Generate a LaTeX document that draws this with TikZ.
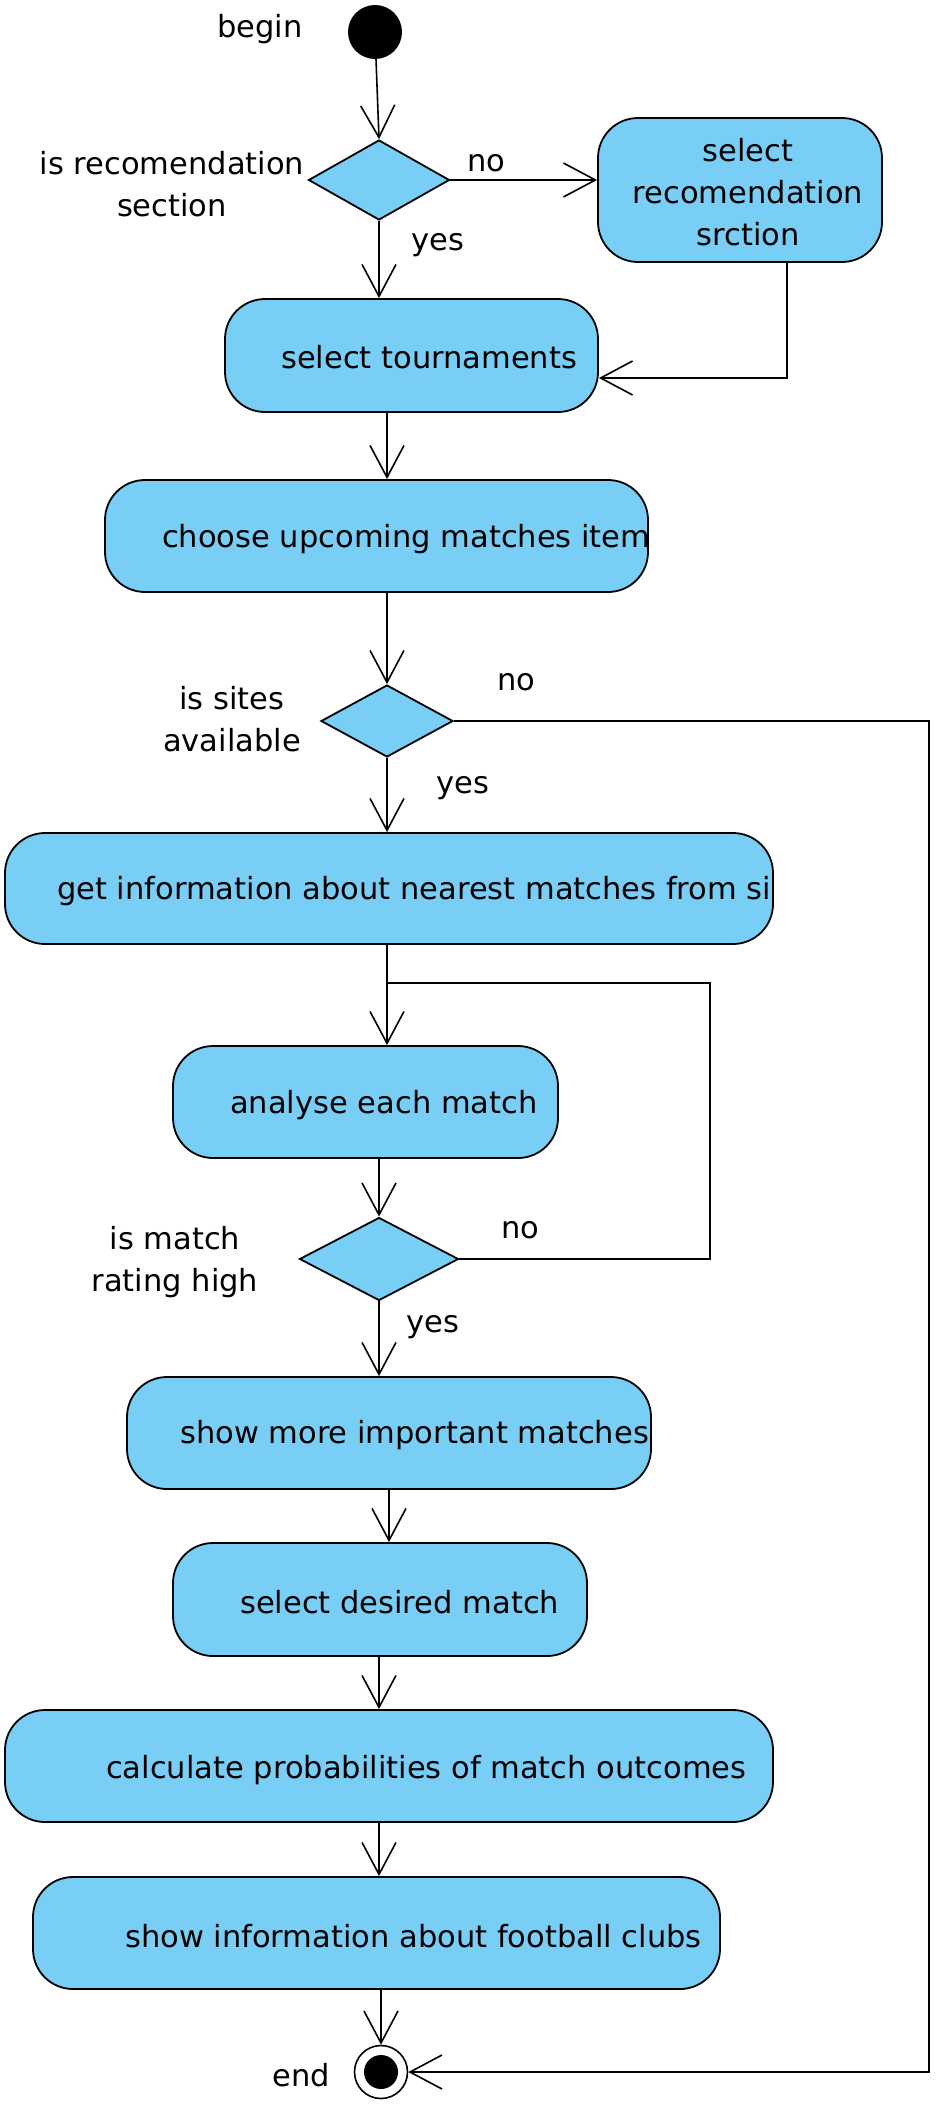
\documentclass[tikz,border=0pt]{standalone}
\usepackage{fontspec}
\setmainfont{DejaVu Sans}
\usetikzlibrary{shapes.geometric,arrows.meta}
\definecolor{actblue}{RGB}{120,206,244}
\tikzset{
  actbox/.style={draw,fill=actblue,rounded corners=40pt,line width=1.8pt,inner sep=0pt},
  decide/.style={draw,fill=actblue,diamond,inner sep=0pt,line width=1.8pt},
  startdot/.style={circle,fill=black,minimum size=54pt,inner sep=0pt},
  lbl/.style={font=\fontsize{30.5}{42}\selectfont,align=center,inner sep=0pt},
  flow/.style={line width=1.6pt,-{Straight Barb[length=32pt,width=34pt]}},
  wire/.style={line width=1.6pt},
}
\begin{document}
\begin{tikzpicture}[x=1pt,y=-1pt]
\useasboundingbox (0,0) rectangle (939,2112);

%% begin, recomendation choice
    \node[startdot] (start) at (375,32) {};
    \node[lbl] (begintxt) at (260,29) {begin};
    \node[decide,minimum width=141pt,minimum height=80pt] (d1) at (379,180) {};
    \node[lbl] (d1txt) at (172,184) {is recomendation\\section};
    \node[actbox,minimum width=284pt,minimum height=144pt] (rec) at (740,190) {};
    \node[lbl] (rectxt) at (748,192) {select\\recomendation\\srction};
    \node[actbox,minimum width=373pt,minimum height=113pt] (tour) at (411.5,355.5) {};
    \node[lbl,anchor=west] (tourtxt) at (281,357) {select tournaments};
    \node[lbl] (no1) at (486,163) {no};
    \node[lbl] (yes1) at (438,245) {yes};
    \coordinate (recturn) at (787,378);

    \draw[flow] (start) -- (d1.north);
    \draw[flow] (d1.east) -- (d1.east -| rec.west);
    \draw[flow] (d1.south) -- (d1.south |- tour.north);
    \draw[flow] (rec.south -| recturn) -- (recturn) -- (recturn -| tour.east);

%% upcoming matches, sites
    \node[actbox,minimum width=543pt,minimum height=112pt] (choose) at (376.5,536) {};
    \node[lbl,anchor=west] (choosetxt) at (162,539) {choose upcoming matches item};
    \node[decide,minimum width=132pt,minimum height=72pt] (d2) at (387,721) {};
    \node[lbl] (d2txt) at (232,719) {is sites\\available};
    \node[lbl] (no2) at (516,682) {no};
    \node[lbl] (yes2) at (463,788) {yes};
    \node[actbox,minimum width=768pt,minimum height=111pt] (info) at (389,888.5) {};
    \node[lbl,anchor=west] (infotxt) at (57,891) {get information about nearest matches from si};

    \draw[flow] (tour.south -| d2) -- (choose.north -| d2);
    \draw[flow] (choose.south -| d2) -- (d2.north);
    \draw[flow] (d2.south) -- (d2.south |- info.north);

%% analyse loop
    \node[actbox,minimum width=385pt,minimum height=112pt] (analyse) at (365.5,1102) {};
    \node[lbl,anchor=west] (analysetxt) at (230,1105) {analyse each match};
    \node[decide,minimum width=159pt,minimum height=83pt] (d3) at (379,1259) {};
    \node[lbl] (d3txt) at (175,1262) {is match\\rating high};
    \node[lbl] (no3) at (520,1230) {no};
    \node[lbl] (yes3) at (433,1327) {yes};
    \coordinate (loop) at (710,983);

    \draw[flow] (info.south -| d2) -- (analyse.north -| d2);
    \draw[flow] (analyse.south -| d3) -- (d3.north);
    \draw[wire] (d3.east) -| (loop) -- (loop -| d2);

%% results
    \node[actbox,minimum width=524pt,minimum height=112pt] (more) at (389,1433) {};
    \node[lbl,anchor=west] (moretxt) at (180,1435) {show more important matches};
    \node[actbox,minimum width=414pt,minimum height=113pt] (desired) at (380,1599.5) {};
    \node[lbl,anchor=west] (desiredtxt) at (240,1602) {select desired match};
    \node[actbox,minimum width=768pt,minimum height=112pt] (calc) at (389,1766) {};
    \node[lbl,anchor=west] (calctxt) at (106,1770) {calculate probabilities of match outcomes};
    \node[actbox,minimum width=687pt,minimum height=112pt] (clubs) at (376.5,1933) {};
    \node[lbl,anchor=west] (clubstxt) at (125,1936) {show information about football clubs};

    \draw[flow] (d3.south) -- (d3.south |- more.north);
    \draw[flow] (more.south) -- (more.south |- desired.north);
    \draw[flow] (desired.south -| d3) -- (calc.north -| d3);
    \draw[flow] (calc.south -| d3) -- (clubs.north -| d3);

%% end
    \node[circle,draw,fill=white,line width=1.6pt,minimum size=53pt,inner sep=0pt] (end) at (381,2072) {};
    \node[startdot,minimum size=34pt] (enddot) at (end) {};
    \node[lbl] (endtxt) at (301,2075) {end};
    \coordinate (farc) at (929,2072);

    \draw[flow] (clubs.south -| end) -- (end.north);
    \draw[flow] (d2.east) -| (farc) -- (end.east);

\end{tikzpicture}
\end{document}
